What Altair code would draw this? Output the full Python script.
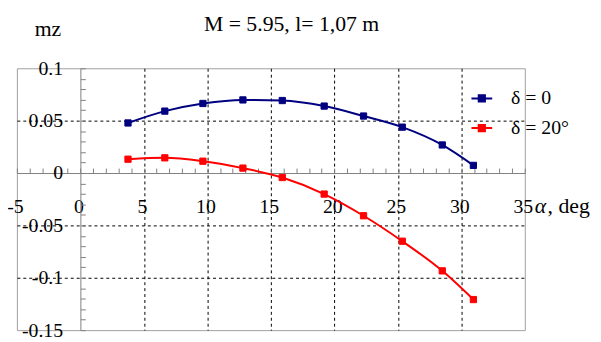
import altair as alt
import pandas as pd

# ---- data ----
alpha = [3.75, 6.65, 9.65, 12.8, 15.9, 19.2, 22.3, 25.35, 28.5, 30.95]
mz_delta0 = [0.0478, 0.0591, 0.0664, 0.0698, 0.0692, 0.0639, 0.0544, 0.0438, 0.0268, 0.0073]
mz_delta20 = [0.0132, 0.0145, 0.0113, 0.0047, -0.0043, -0.0201, -0.0408, -0.0651, -0.0934, -0.1208]
series_names = ["δ = 0", "δ = 20°"]
series_colors = ["#000080", "#ff0000"]

x_label_values = [-5, 0, 5, 10, 15, 20, 25, 30, 35]
y_label_values = [-0.15, -0.1, -0.05, 0, 0.05, 0.1]
x_grid_values = [5, 10, 15, 20, 25, 30]
y_grid_values = [-0.1, -0.05, 0.05]
x_minor_ticks = list(range(-5, 36))
y_minor_ticks = [round(-0.15 + 0.01 * i, 2) for i in range(26)]

title_text = "M = 5.95, l= 1,07 m"
y_title = "mz"
x_title_sym = "α"
x_title_rest = ", deg"

df = pd.DataFrame({
    "alpha": alpha * 2,
    "mz": mz_delta0 + mz_delta20,
    "series": [series_names[0]] * len(alpha) + [series_names[1]] * len(alpha),
})

# ---- layout ----
W, H = 514, 265
X_DOMAIN = [-5, 35]
Y_DOMAIN = [-0.15, 0.1]
x0_px = (0 - X_DOMAIN[0]) / (X_DOMAIN[1] - X_DOMAIN[0]) * W
y0_px = (Y_DOMAIN[1] - 0) / (Y_DOMAIN[1] - Y_DOMAIN[0]) * H
FONT = "Times New Roman, Liberation Serif, DejaVu Serif, serif"
FS = 20
AXIS_GRAY = "#808080"
label_expr = "'' + datum.value"

xs = alt.Scale(domain=X_DOMAIN, nice=False, zero=False)
ys = alt.Scale(domain=Y_DOMAIN, nice=False, zero=False)
cscale = alt.Scale(domain=series_names, range=series_colors)

ax_x_labels = alt.Axis(orient="bottom", offset=-(H - y0_px), values=x_label_values,
                       domain=False, ticks=False, tickSize=0, grid=False,
                       labelPadding=40, labelBaseline="alphabetic", labelFont=FONT,
                       labelFontSize=FS, labelColor="black", labelFlush=False,
                       labelOverlap=False, labelOffset=-2, labelExpr=label_expr,
                       title=None)
ax_y_labels = alt.Axis(orient="left", offset=-x0_px, values=y_label_values,
                       domain=False, ticks=False, tickSize=0, grid=False,
                       labelPadding=18, labelAlign="right", labelBaseline="middle",
                       labelFont=FONT, labelFontSize=FS, labelColor="black",
                       labelFlush=False, labelOverlap=False, labelExpr=label_expr,
                       title=None)
ax_x_ticks = alt.Axis(orient="top", offset=-y0_px, values=x_minor_ticks,
                      domain=True, domainColor=AXIS_GRAY, domainWidth=1,
                      ticks=True, tickSize=5, tickColor=AXIS_GRAY, tickWidth=1,
                      labels=False, grid=False, title=None)
ax_y_ticks = alt.Axis(orient="right", offset=-(W - x0_px), values=y_minor_ticks,
                      domain=True, domainColor=AXIS_GRAY, domainWidth=1,
                      ticks=True, tickSize=5, tickColor=AXIS_GRAY, tickWidth=1,
                      labels=False, grid=False, title=None)
ax_x_grid = alt.Axis(orient="bottom", values=x_grid_values, grid=True, gridDash=[3, 3],
                     gridColor="black", gridWidth=1, gridOpacity=1, labels=False,
                     ticks=False, domain=False, title=None)
ax_y_grid = alt.Axis(orient="left", values=y_grid_values, grid=True, gridDash=[3, 3],
                     gridColor="black", gridWidth=1, gridOpacity=1, labels=False,
                     ticks=False, domain=False, title=None)

legend = alt.Legend(orient="none", legendX=459, legendY=19, title=None,
                    symbolType="M-1,0H1M-0.3,-0.3H0.3V0.3H-0.3Z", symbolSize=441,
                    symbolStrokeWidth=2, labelFont=FONT, labelFontSize=FS,
                    labelColor="black", labelOffset=18, rowPadding=8, padding=0)

grid_layer = alt.Chart(df).mark_point(opacity=0).encode(
    x=alt.X("alpha:Q", scale=xs, axis=ax_x_grid),
    y=alt.Y("mz:Q", scale=ys, axis=ax_y_grid),
)

line_layer = alt.Chart(df).mark_line(strokeWidth=2, interpolate="monotone").encode(
    x=alt.X("alpha:Q", scale=xs, axis=ax_x_labels),
    y=alt.Y("mz:Q", scale=ys, axis=ax_y_labels),
    stroke=alt.Stroke("series:N", scale=cscale, legend=legend),
    detail="series:N",
)

point_layer = alt.Chart(df).mark_square(size=40, opacity=1, strokeWidth=1).encode(
    x=alt.X("alpha:Q", scale=xs, axis=ax_x_ticks),
    y=alt.Y("mz:Q", scale=ys, axis=ax_y_ticks),
    fill=alt.Fill("series:N", scale=cscale, legend=legend),
    stroke=alt.Stroke("series:N", scale=cscale, legend=legend),
)


def text_layer(text, x, y, size, style="normal", align="left"):
    return alt.Chart(pd.DataFrame({"t": [text]})).mark_text(
        font=FONT, fontSize=size, fontStyle=style, align=align,
        baseline="alphabetic", color="black",
    ).encode(x=alt.value(x), y=alt.value(y), text="t:N")


title_layer = text_layer(title_text, 278, -38, 22, align="center")
ytitle_layer = text_layer(y_title, 18, -33, 22)
xsym_layer = text_layer(x_title_sym, 524, 146, 22, style="italic")
xrest_layer = text_layer(x_title_rest, 537, 146, 22)

chart = alt.layer(
    grid_layer, line_layer, point_layer,
    title_layer, ytitle_layer, xsym_layer, xrest_layer,
).resolve_axis(x="independent", y="independent").properties(
    width=W, height=H,
    autosize=alt.AutoSizeParams(type="none"),
    padding={"left": 9, "top": 59, "right": 69, "bottom": 10},
).configure_view(stroke="#a0a0a0", strokeWidth=1)

chart.save("out.html", embed_options={"renderer": "svg", "actions": False})
